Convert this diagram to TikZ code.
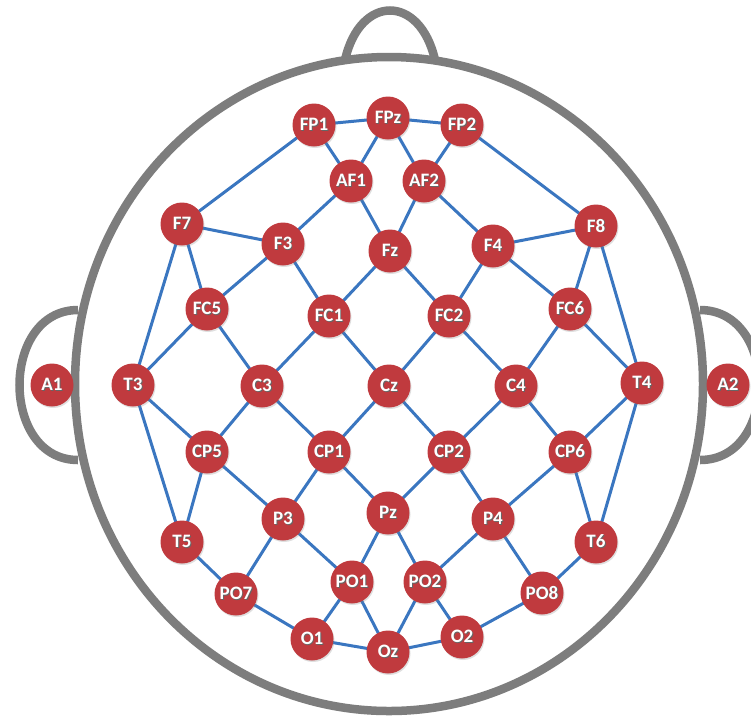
\documentclass[tikz,border=0pt]{standalone}
\usepackage{fontspec}
\setmainfont{Carlito}
\usetikzlibrary{shadows}
\definecolor{nodered}{RGB}{192,58,62}
\definecolor{linkblue}{RGB}{58,118,192}
\definecolor{headgray}{RGB}{125,125,125}
\newcommand\shadowtext[1]{\rlap{\hspace{0.9pt}\raisebox{-0.9pt}{\textcolor{black!60}{#1}}}#1}
\pgfdeclarelayer{back}
\pgfdeclarelayer{bg}
\pgfsetlayers{back,bg,main}
\begin{document}
\begin{tikzpicture}[x=1pt,y=-1pt,
  electrode/.style={circle, fill=nodered, minimum size=43pt, inner sep=0pt, text=white,
    font=\bfseries\fontsize{19}{19}\selectfont,
    drop shadow={opacity=0.25, shadow xshift=1pt, shadow yshift=-1.5pt}},
  link/.style={draw=linkblue, line width=3pt},
  headline/.style={draw=headgray, line width=8.5pt}]
\useasboundingbox (0,0) rectangle (751,724);
\begin{pgfonlayer}{back}
\fill[white] (0,0) rectangle (751,724);
\end{pgfonlayer}
% electrodes
\foreach \n/\x/\y in {FP1/314/125, FPz/388/118, FP2/462/125,
  AF1/351/181, AF2/424/181,
  F7/182/224, F3/283/244, Fz/390/251, F4/493/246, F8/596/226,
  FC5/207/309, FC1/329/316, FC2/449/316, FC6/570/309,
  A1/52/385, T3/133/385, C3/262/386, Cz/389/386, C4/516/386, T4/642/383, A2/728/385,
  CP5/207/452, CP1/329/452, CP2/449/452, CP6/570/452,
  T5/182/542, P3/283/519, Pz/388/513, P4/493/519, T6/596/542,
  PO7/236/594, PO1/352/582, PO2/425/582, PO8/542/593,
  O1/312/639, Oz/388/652, O2/462/637}
  \node[electrode] (\n) at (\x,\y) {\shadowtext{\n}};
\begin{pgfonlayer}{bg}
  % head
  \draw[headline] (345,60) .. controls (360,-6) and (420,-6) .. (435,60);
  \draw[headline] (78,310) .. controls (0,310) and (0,460) .. (78,460);
  \draw[headline] (700,310) .. controls (779,310) and (779,460) .. (700,460);
  \draw[headline, fill=white] (389,384) ellipse [x radius=314, y radius=327];
  % links
  \foreach \a/\b in {FP1/FPz, FPz/FP2, FP1/AF1, FPz/AF1, FPz/AF2, FP2/AF2, FP1/F7, FP2/F8,
    F7/F3, F3/AF1, AF1/Fz, Fz/AF2, AF2/F4, F4/F8,
    F7/FC5, F7/T3, F3/FC5, F3/FC1, Fz/FC1, Fz/FC2, F4/FC2, F4/FC6, F8/FC6, F8/T4,
    FC5/T3, FC5/C3, FC1/C3, FC1/Cz, FC2/Cz, FC2/C4, FC6/C4, FC6/T4,
    T3/CP5, T3/T5, C3/CP5, C3/CP1, Cz/CP1, Cz/CP2, C4/CP2, C4/CP6, T4/CP6, T4/T6,
    CP5/T5, CP5/P3, CP1/P3, CP1/Pz, CP2/Pz, CP2/P4, CP6/P4, CP6/T6,
    T5/PO7, P3/PO7, P3/PO1, Pz/PO1, Pz/PO2, P4/PO2, P4/PO8, T6/PO8,
    PO7/O1, PO1/O1, PO1/Oz, PO2/Oz, PO2/O2, PO8/O2, O1/Oz, Oz/O2}
    \draw[link] (\a.center) -- (\b.center);
\end{pgfonlayer}
\end{tikzpicture}
\end{document}
